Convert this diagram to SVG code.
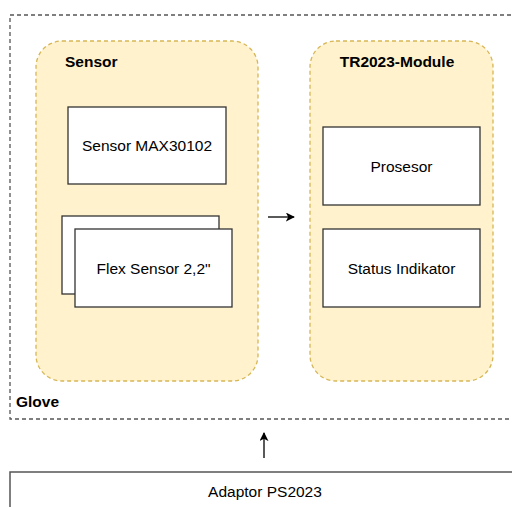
<svg xmlns="http://www.w3.org/2000/svg" width="512" height="507" viewBox="0 0 512 507">
<defs>
<marker id="arr" viewBox="0 0 10 10" refX="9" refY="5" markerWidth="9" markerHeight="9" markerUnits="userSpaceOnUse" orient="auto">
<path d="M0,0 L10,5 L0,10 L2.5,5 Z" fill="#000"/>
</marker>
<style>
.t{font-family:"Liberation Sans",Arial,sans-serif;font-size:15.5px;fill:#000;}
.b{font-weight:bold;}
.cont{fill:#fff2cc;stroke:#d6b656;stroke-width:1.3;stroke-dasharray:4 3;}
.box{fill:#fff;stroke:#333;stroke-width:1.3;}
.edge{stroke:#000;stroke-width:1.3;fill:none;}
</style>
</defs>
<rect width="512" height="507" fill="#fff"/>
<g id="glove">
<rect x="10" y="15" width="520" height="404" fill="none" stroke="#555" stroke-width="1.3" stroke-dasharray="4 3"/>
<text class="t b" x="16" y="407">Glove</text>
</g>
<g id="sensor">
<rect class="cont" x="36" y="41" width="222" height="340" rx="26"/>
<text class="t b" x="65" y="67">Sensor</text>
</g>
<g id="module">
<rect class="cont" x="310" y="41" width="183" height="340" rx="26"/>
<text class="t b" x="397" y="67" text-anchor="middle">TR2023-Module</text>
</g>
<g id="max30102">
<rect class="box" x="68" y="107" width="158" height="77"/>
<text class="t" x="147" y="151" text-anchor="middle">Sensor MAX30102</text>
</g>
<g id="flex">
<rect class="box" x="62" y="216" width="157" height="78"/>
<rect class="box" x="75" y="229" width="157" height="78"/>
<text class="t" x="153.5" y="274" text-anchor="middle">Flex Sensor 2,2"</text>
</g>
<g id="prosesor">
<rect class="box" x="323" y="127" width="157" height="78"/>
<text class="t" x="401.5" y="172" text-anchor="middle">Prosesor</text>
</g>
<g id="status">
<rect class="box" x="323" y="229" width="157" height="78"/>
<text class="t" x="401.5" y="274" text-anchor="middle">Status Indikator</text>
</g>
<g id="adaptor">
<rect x="10" y="472" width="520" height="60" fill="#fff" stroke="#555" stroke-width="1.5"/>
<text class="t" x="265" y="497" text-anchor="middle">Adaptor PS2023</text>
</g>
<g id="connectors">
<line class="edge" x1="268" y1="217" x2="294" y2="217" marker-end="url(#arr)"/>
<line class="edge" x1="264" y1="458" x2="264" y2="433" marker-end="url(#arr)"/>
</g>
</svg>
